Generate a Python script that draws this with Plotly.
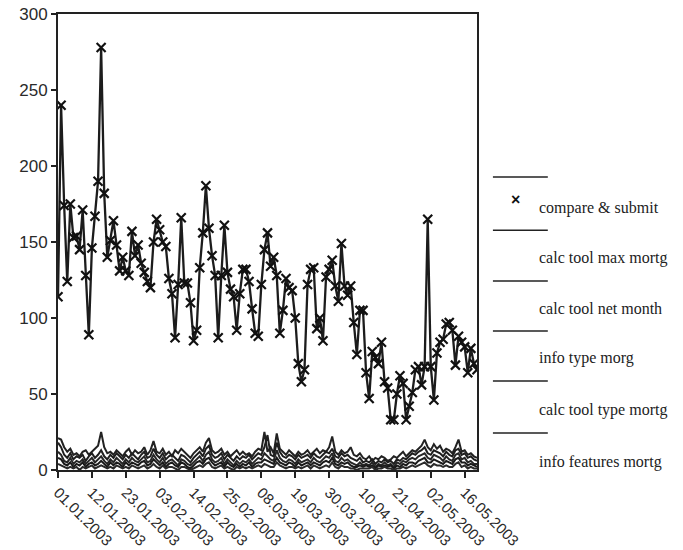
import pandas as pd
import plotly.graph_objects as go

# ---- categories (daily dates, some days missing in May) ----
dates_a = [d.strftime("%d.%m.%Y") for d in pd.date_range("2003-01-01", "2003-05-02", freq="D")]
dates_b = ["03.05.2003", "04.05.2003", "05.05.2003", "06.05.2003", "07.05.2003",
           "08.05.2003", "09.05.2003", "13.05.2003", "14.05.2003", "15.05.2003",
           "16.05.2003", "17.05.2003", "18.05.2003", "19.05.2003", "20.05.2003"]
categories = dates_a + dates_b

tick_labels = ["01.01.2003", "12.01.2003", "23.01.2003", "03.02.2003", "14.02.2003",
               "25.02.2003", "08.03.2003", "19.03.2003", "30.03.2003", "10.04.2003",
               "21.04.2003", "02.05.2003", "16.05.2003"]

compare_submit = [
    114, 240, 174, 124, 175, 153, 154, 145, 171, 128, 89, 146, 167, 190, 278, 182, 140, 151, 164, 148,
    131, 140, 131, 128, 157, 141, 148, 136, 130, 124, 120, 150, 165, 158, 150, 147, 126, 116, 87, 122,
    166, 123, 123, 110, 85, 92, 133, 156, 187, 159, 141, 128, 87, 128, 161, 130, 119, 114, 92, 116,
    132, 132, 124, 106, 90, 88, 122, 145, 156, 134, 140, 128, 90, 105, 126, 120, 118, 100, 70, 58,
    66, 122, 132, 133, 93, 100, 85, 127, 132, 138, 121, 111, 149, 121, 115, 121, 97, 76, 105, 105,
    64, 47, 78, 74, 70, 84, 58, 54, 33, 33, 50, 62, 57, 33, 42, 51, 66, 68, 56, 68,
    165, 68, 46, 77, 84, 86, 96, 97, 92, 69, 88, 84, 81, 64, 80, 70, 66]

calc_max_mortg = [
    21, 20, 15, 12, 14, 10, 11, 9, 12, 13, 10, 12, 14, 16, 25, 15, 11, 12, 10, 13,
    11, 9, 12, 14, 10, 13, 11, 12, 15, 10, 13, 19, 12, 11, 14, 10, 12, 9, 13, 11,
    14, 12, 10, 8, 11, 13, 15, 12, 18, 21, 13, 11, 12, 14, 10, 12, 9, 11, 13, 10,
    12, 10, 11, 9, 12, 14, 13, 25, 12, 15, 11, 24, 14, 12, 10, 13, 11, 9, 12, 10,
    11, 13, 10, 12, 14, 11, 13, 12, 15, 22, 12, 10, 13, 11, 12, 15, 10, 9, 11, 8,
    7, 9, 6, 8, 7, 9, 8, 6, 7, 9, 8, 10, 12, 9, 11, 13, 12, 14, 16, 20,
    15, 13, 17, 14, 16, 12, 14, 13, 11, 15, 20, 12, 13, 10, 11, 9, 8]

calc_net_month = [
    18, 15, 10, 8, 11, 7, 9, 8, 10, 6, 9, 11, 8, 10, 13, 9, 7, 10, 8, 11,
    9, 7, 10, 8, 11, 9, 7, 10, 12, 8, 9, 14, 10, 8, 11, 7, 9, 10, 8, 6,
    10, 9, 7, 5, 8, 10, 12, 9, 14, 16, 10, 8, 9, 11, 7, 10, 8, 6, 9, 7,
    9, 8, 10, 7, 9, 11, 10, 15, 23, 10, 9, 18, 12, 9, 8, 10, 9, 7, 10, 8,
    9, 10, 8, 11, 9, 8, 10, 12, 11, 14, 9, 8, 11, 9, 10, 8, 7, 6, 8, 5,
    6, 5, 7, 4, 6, 5, 7, 5, 6, 4, 7, 6, 8, 7, 9, 11, 10, 12, 13, 15,
    11, 10, 13, 12, 11, 9, 12, 10, 9, 13, 14, 10, 11, 8, 9, 7, 6]

info_type_morg = [
    12, 10, 6, 5, 8, 4, 6, 5, 7, 4, 6, 8, 5, 7, 9, 6, 4, 7, 5, 8,
    6, 4, 7, 5, 8, 6, 5, 7, 9, 5, 6, 10, 7, 5, 8, 4, 6, 7, 5, 3,
    7, 6, 4, 3, 5, 7, 9, 6, 10, 12, 7, 5, 6, 8, 4, 7, 5, 3, 6, 4,
    6, 5, 7, 4, 6, 8, 7, 11, 9, 7, 6, 13, 8, 6, 5, 7, 6, 4, 7, 5,
    6, 7, 5, 8, 6, 5, 7, 9, 8, 11, 6, 5, 8, 6, 7, 5, 4, 3, 5, 3,
    4, 3, 5, 2, 4, 3, 5, 3, 4, 2, 5, 4, 6, 5, 7, 8, 7, 9, 10, 11,
    8, 7, 10, 9, 8, 6, 9, 7, 6, 10, 11, 7, 8, 5, 6, 4, 4]

calc_type_mortg = [
    8, 7, 4, 3, 5, 2, 4, 3, 5, 2, 4, 5, 3, 4, 6, 4, 2, 5, 3, 5,
    4, 2, 5, 3, 5, 4, 3, 5, 6, 3, 4, 7, 5, 3, 5, 2, 4, 5, 3, 2,
    5, 4, 2, 1, 3, 5, 6, 4, 7, 8, 5, 3, 4, 5, 2, 5, 3, 2, 4, 2,
    4, 3, 5, 2, 4, 5, 5, 7, 6, 5, 4, 8, 5, 4, 3, 5, 4, 2, 5, 3,
    4, 5, 3, 5, 4, 3, 5, 6, 5, 8, 4, 3, 5, 4, 5, 3, 2, 2, 3, 2,
    3, 2, 3, 1, 3, 2, 3, 2, 3, 1, 3, 2, 4, 3, 5, 5, 4, 6, 7, 8,
    5, 5, 7, 6, 5, 4, 6, 5, 4, 7, 8, 5, 5, 3, 4, 3, 2]

info_features_mortg = [
    4, 3, 2, 1, 2, 1, 2, 0, 2, 1, 2, 3, 1, 2, 3, 2, 1, 2, 1, 3,
    2, 1, 2, 1, 3, 2, 1, 2, 3, 1, 2, 4, 2, 1, 3, 1, 2, 2, 1, 0,
    2, 2, 1, 0, 1, 2, 3, 2, 4, 5, 2, 1, 2, 3, 1, 2, 1, 0, 2, 1,
    2, 1, 2, 1, 2, 3, 2, 4, 3, 2, 2, 5, 3, 2, 1, 2, 2, 1, 2, 1,
    2, 3, 1, 3, 2, 1, 2, 3, 2, 5, 2, 1, 3, 2, 2, 1, 1, 0, 1, 1,
    1, 1, 2, 0, 1, 1, 2, 1, 1, 0, 1, 1, 2, 1, 2, 3, 2, 3, 4, 5,
    3, 2, 4, 3, 3, 2, 3, 2, 2, 4, 5, 2, 3, 1, 2, 1, 1]

series_names = ["compare & submit", "calc tool max mortg", "calc tool net month",
                "info type morg", "calc tool type mortg", "info features mortg"]

fig = go.Figure()
small = [calc_max_mortg, calc_net_month, info_type_morg, calc_type_mortg, info_features_mortg]
small_colors = ["#222222", "#1e1e1e", "#262626", "#1a1a1a", "#2a2a2a"]
for name, vals, col in zip(series_names[1:], small, small_colors):
    fig.add_trace(go.Scatter(x=categories, y=vals, mode="lines", name=name,
                             line=dict(color=col, width=2)))

fig.add_trace(go.Scatter(x=categories, y=compare_submit, mode="lines+markers",
                         name=series_names[0],
                         line=dict(color="#1c1c1c", width=2.3),
                         marker=dict(symbol="x-thin", size=9,
                                     line=dict(color="#111111", width=2.2), color="#111111")))

# ---- manual legend (lines above labels, as in the reference) ----
line_y = [0.6425, 0.526, 0.4145, 0.305, 0.195, 0.081]
text_y = [0.5746, 0.465, 0.355, 0.2456, 0.1316, 0.0175]
for ly in line_y:
    fig.add_shape(type="line", xref="paper", yref="paper", x0=1.038, x1=1.169,
                  y0=ly, y1=ly, line=dict(color="#222222", width=1.5))
for name, ty in zip(series_names, text_y):
    fig.add_annotation(xref="paper", yref="paper", x=1.143, y=ty, text=name,
                       showarrow=False, xanchor="left", yanchor="middle",
                       font=dict(family="Liberation Serif", size=16, color="#222222"))
fig.add_annotation(xref="paper", yref="paper", x=1.093, y=0.594, text="<b>×</b>",
                   showarrow=False, xanchor="center", yanchor="middle",
                   font=dict(family="Liberation Sans", size=16, color="#111111"))

fig.update_layout(
    width=683, height=550,
    margin=dict(l=58, r=206, t=14, b=80),
    paper_bgcolor="white", plot_bgcolor="white",
    showlegend=False,
    font=dict(family="Liberation Sans", color="#2a2a2a"),
)
fig.update_xaxes(type="category", range=[0, len(categories) - 1], automargin=False,
                 tickmode="array", tickvals=tick_labels, ticktext=tick_labels,
                 tickangle=45, ticks="outside", ticklen=6, tickwidth=1.5, tickcolor="#222",
                 showline=True, linecolor="#222222", linewidth=2, mirror=True,
                 showgrid=False, zeroline=False,
                 tickfont=dict(family="Liberation Sans", size=15, color="#2a2a2a"))
fig.update_yaxes(range=[0, 300], dtick=50, ticks="outside", ticklen=5, tickwidth=1.5,
                 automargin=False,
                 tickcolor="#222", showline=True, linecolor="#222222", linewidth=2,
                 mirror=True, showgrid=False, zeroline=False,
                 tickfont=dict(family="Liberation Sans", size=17, color="#2a2a2a"))

fig.write_html("out.html", config={"displayModeBar": False},
               post_script="document.body.style.margin='0';document.body.style.padding='0';")
